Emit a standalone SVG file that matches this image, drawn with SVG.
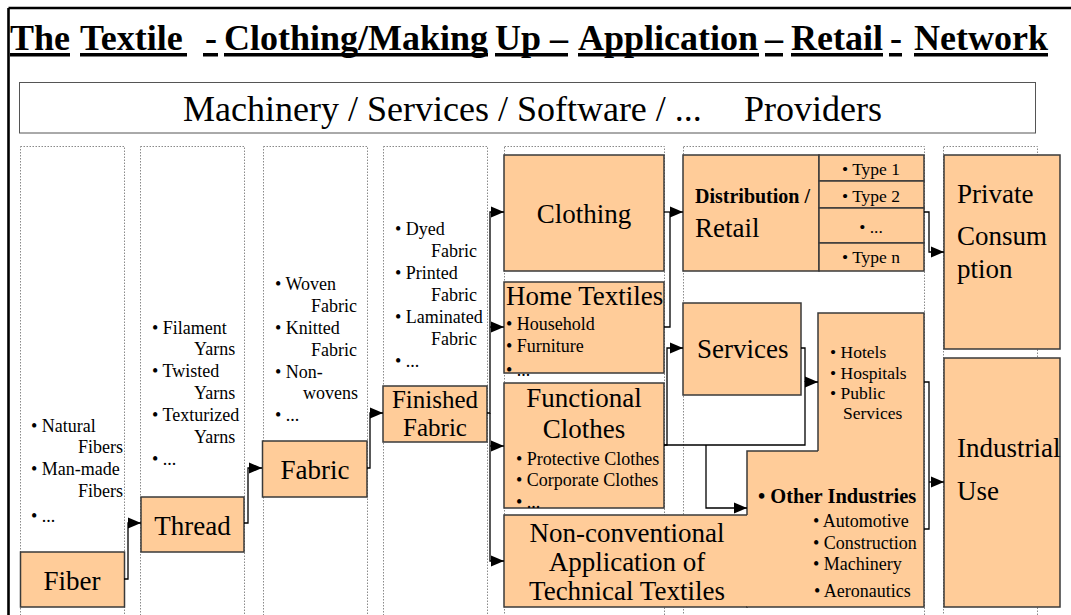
<svg xmlns="http://www.w3.org/2000/svg" width="1071" height="615" viewBox="0 0 1071 615" font-family="'Liberation Serif', 'Times New Roman', serif">
<style>
text{font-family:'Liberation Serif','Times New Roman',serif;fill:#000}
.ti{font-size:36px;font-weight:bold}
.ul{fill:#000}
.big{font-size:27px}
.sm{font-size:18px}
.xs{font-size:17.5px}
.box{fill:#FFCC99;stroke:#3a3a3a;stroke-width:1.5}
.col{fill:none;stroke:#8a8a8a;stroke-width:1;stroke-dasharray:1.5,1.5}
.con{fill:none;stroke:#000;stroke-width:1.3}
.mid{text-anchor:middle}
</style>
<defs>
<marker id="ah" markerUnits="userSpaceOnUse" markerWidth="14" markerHeight="12" refX="13" refY="6" orient="auto">
<path d="M0,0.5 L13,6 L0,11.5 z" fill="#000"/>
</marker>
</defs>
<rect x="0" y="0" width="1071" height="615" fill="#fff"/>
<g id="frame">
<line x1="8.5" y1="8" x2="1071" y2="8" stroke="#000" stroke-width="2.6"/>
<line x1="8.5" y1="8" x2="8.5" y2="615" stroke="#000" stroke-width="2.6"/>
</g>
<g id="title">
<text class="ti" x="10" y="50">The</text>
<text class="ti" x="80" y="50">Textile</text>
<text class="ti" x="205" y="50">-</text>
<text class="ti" x="224" y="50">Clothing/Making</text>
<text class="ti" x="495" y="50">Up –</text>
<text class="ti" x="578" y="50">Application</text>
<text class="ti" x="765" y="50">–</text>
<text class="ti" x="791" y="50">Retail</text>
<text class="ti" x="890" y="50">-</text>
<text class="ti" x="914" y="50">Network</text>
<rect class="ul" x="10" y="53" width="60" height="3.5"/>
<rect class="ul" x="80" y="53" width="107" height="3.5"/>
<rect class="ul" x="203" y="53" width="15" height="3.5"/>
<rect class="ul" x="224" y="53" width="264" height="3.5"/>
<rect class="ul" x="495" y="53" width="73" height="3.5"/>
<rect class="ul" x="578" y="53" width="181" height="3.5"/>
<rect class="ul" x="765" y="53" width="18" height="3.5"/>
<rect class="ul" x="791" y="53" width="92" height="3.5"/>
<rect class="ul" x="889" y="53" width="13" height="3.5"/>
<rect class="ul" x="914" y="53" width="134" height="3.5"/>
</g>
<g id="providers">
<rect x="19.5" y="82.5" width="1016" height="50.5" fill="#fff" stroke="#555" stroke-width="1"/>
<text x="183" y="121" style="font-size:36px">Machinery / Services / Software / ...</text>
<text x="744" y="121" style="font-size:36px">Providers</text>
</g>
<g id="columns">
<rect class="col" x="20.5" y="146.5" width="104" height="480"/>
<rect class="col" x="140.5" y="146.5" width="104" height="480"/>
<rect class="col" x="263.5" y="146.5" width="104" height="480"/>
<rect class="col" x="383.5" y="146.5" width="104" height="480"/>
<rect class="col" x="504.5" y="146.5" width="160" height="480"/>
<rect class="col" x="683.5" y="146.5" width="241" height="480"/>
<rect class="col" x="943.5" y="146.5" width="94" height="480"/>
</g>
<g id="fiber-list" class="sm">
<text x="31" y="432">• Natural</text>
<text x="78" y="453">Fibers</text>
<text x="31" y="475">• Man-made</text>
<text x="78" y="497">Fibers</text>
<text x="31" y="522">• ...</text>
</g>
<g id="thread-list" class="sm">
<text x="152" y="334">• Filament</text>
<text x="194" y="355">Yarns</text>
<text x="152" y="377">• Twisted</text>
<text x="194" y="399">Yarns</text>
<text x="152" y="421">• Texturized</text>
<text x="194" y="443">Yarns</text>
<text x="152" y="465">• ...</text>
</g>
<g id="fabric-list" class="sm">
<text x="275" y="290">• Woven</text>
<text x="311" y="312">Fabric</text>
<text x="275" y="334">• Knitted</text>
<text x="311" y="356">Fabric</text>
<text x="275" y="378">• Non-</text>
<text x="303" y="399">wovens</text>
<text x="275" y="421">• ...</text>
</g>
<g id="finished-list" class="sm">
<text x="395" y="235">• Dyed</text>
<text x="431" y="257">Fabric</text>
<text x="395" y="279">• Printed</text>
<text x="431" y="301">Fabric</text>
<text x="395" y="323">• Laminated</text>
<text x="431" y="345">Fabric</text>
<text x="395" y="367">• ...</text>
</g>
<g id="fiber">
<rect class="box" x="20.5" y="552" width="104" height="55"/>
<text class="big mid" x="72" y="590">Fiber</text>
</g>
<g id="thread">
<rect class="box" x="141" y="497" width="103" height="55"/>
<text class="big mid" x="192.5" y="535">Thread</text>
</g>
<g id="fabric">
<rect class="box" x="262.5" y="441" width="104.5" height="56"/>
<text class="big mid" x="315" y="479">Fabric</text>
</g>
<g id="finished-fabric">
<rect class="box" x="383" y="386" width="104" height="56"/>
<text class="mid" style="font-size:25px"><tspan x="435" y="408">Finished</tspan><tspan x="435" y="436">Fabric</tspan></text>
</g>
<g id="clothing">
<rect class="box" x="504" y="155" width="160" height="116"/>
<text class="big mid" x="584" y="223">Clothing</text>
</g>
<g id="home-textiles">
<rect class="box" x="504" y="282" width="160" height="91"/>
<text class="big" x="506" y="305">Home Textiles</text>
<text class="sm" x="506" y="330">• Household</text>
<text class="sm" x="506" y="352">• Furniture</text>
<text class="sm" x="506" y="376">• ...</text>
</g>
<g id="functional-clothes">
<rect class="box" x="504" y="383" width="160" height="125"/>
<text class="big mid" x="584" y="407">Functional</text>
<text class="big mid" x="584" y="438">Clothes</text>
<text class="sm" x="516" y="465">• Protective Clothes</text>
<text class="sm" x="516" y="486">• Corporate Clothes</text>
<text class="sm" x="516" y="508">• ...</text>
</g>
<g id="non-conventional">
<rect x="504" y="515" width="244" height="92" fill="#FFCC99"/>
<path d="M747,515 H504 V607 H748" fill="none" stroke="#3a3a3a" stroke-width="1.5"/>
<text class="big mid" x="627" y="542">Non-conventional</text>
<text class="big mid" x="627" y="571">Application of</text>
<text class="big mid" x="627" y="600">Technical Textiles</text>
</g>
<g id="other-industries">
<path d="M818,313 H924 V607 H747 V451 H818 Z" fill="#FFCC99"/>
<path d="M818,451 V313 H924 V607 H746 M747,515 V451 H818" fill="none" stroke="#3a3a3a" stroke-width="1.5"/>
<text class="xs" x="830" y="358">• Hotels</text>
<text class="xs" x="830" y="379">• Hospitals</text>
<text class="xs" x="830" y="399">• Public</text>
<text class="xs" x="843" y="419">Services</text>
<text x="758" y="503" style="font-size:20.5px;font-weight:bold">• Other Industries</text>
<text class="sm" x="813" y="527">• Automotive</text>
<text class="sm" x="813" y="549">• Construction</text>
<text class="sm" x="813" y="570">• Machinery</text>
<text class="sm" x="814" y="597">• Aeronautics</text>
</g>
<g id="distribution">
<rect class="box" x="683" y="155" width="136" height="116"/>
<text x="695" y="203" style="font-size:20px;font-weight:bold">Distribution /</text>
<text class="big" x="695" y="237">Retail</text>
<rect class="box" x="819" y="155" width="105" height="26"/>
<rect class="box" x="819" y="181" width="105" height="27"/>
<rect class="box" x="819" y="208" width="105" height="35"/>
<rect class="box" x="819" y="243" width="105" height="28"/>
<text class="xs mid" x="871" y="175">• Type 1</text>
<text class="xs mid" x="871" y="202">• Type 2</text>
<text class="xs mid" x="871" y="233">• ...</text>
<text class="xs mid" x="871" y="263">• Type n</text>
</g>
<g id="services">
<rect class="box" x="683" y="303" width="118" height="92"/>
<text class="big" x="697" y="358">Services</text>
</g>
<g id="private-consumption">
<rect class="box" x="944" y="155" width="116" height="194"/>
<text class="big" x="957" y="203">Private</text>
<text class="big" x="957" y="245">Consum</text>
<text class="big" x="957" y="278">ption</text>
</g>
<g id="industrial-use">
<rect class="box" x="944" y="358" width="116" height="249"/>
<text class="big" x="957" y="457">Industrial</text>
<text class="big" x="957" y="500">Use</text>
</g>
<g id="connectors">
<path class="con" d="M124,579 H128 V523 H141" marker-end="url(#ah)"/>
<path class="con" d="M244,523 H248 V468 H262" marker-end="url(#ah)"/>
<path class="con" d="M367,468 H370 V413 H383" marker-end="url(#ah)"/>
<path class="con" d="M487,413 H490 V212 H504" marker-end="url(#ah)"/>
<path class="con" d="M490,327 H504" marker-end="url(#ah)"/>
<path class="con" d="M490,413 V561 H504" marker-end="url(#ah)"/>
<path class="con" d="M490,446 H504" marker-end="url(#ah)"/>
<path class="con" d="M664,212 H683" marker-end="url(#ah)"/>
<path class="con" d="M664,327 H670 V212"/>
<path class="con" d="M664,445 H667 V348 H683" marker-end="url(#ah)"/>
<path class="con" d="M664,445 H805 V382 H818" marker-end="url(#ah)"/>
<path class="con" d="M801,348 H805 V382"/>
<path class="con" d="M706,445 V508 H747" marker-end="url(#ah)"/>
<path class="con" d="M924,212 H929 V252 H944" marker-end="url(#ah)"/>
<path class="con" d="M924,382 H929 V529 H924"/>
<path class="con" d="M929,482 H944" marker-end="url(#ah)"/>
</g>
</svg>
